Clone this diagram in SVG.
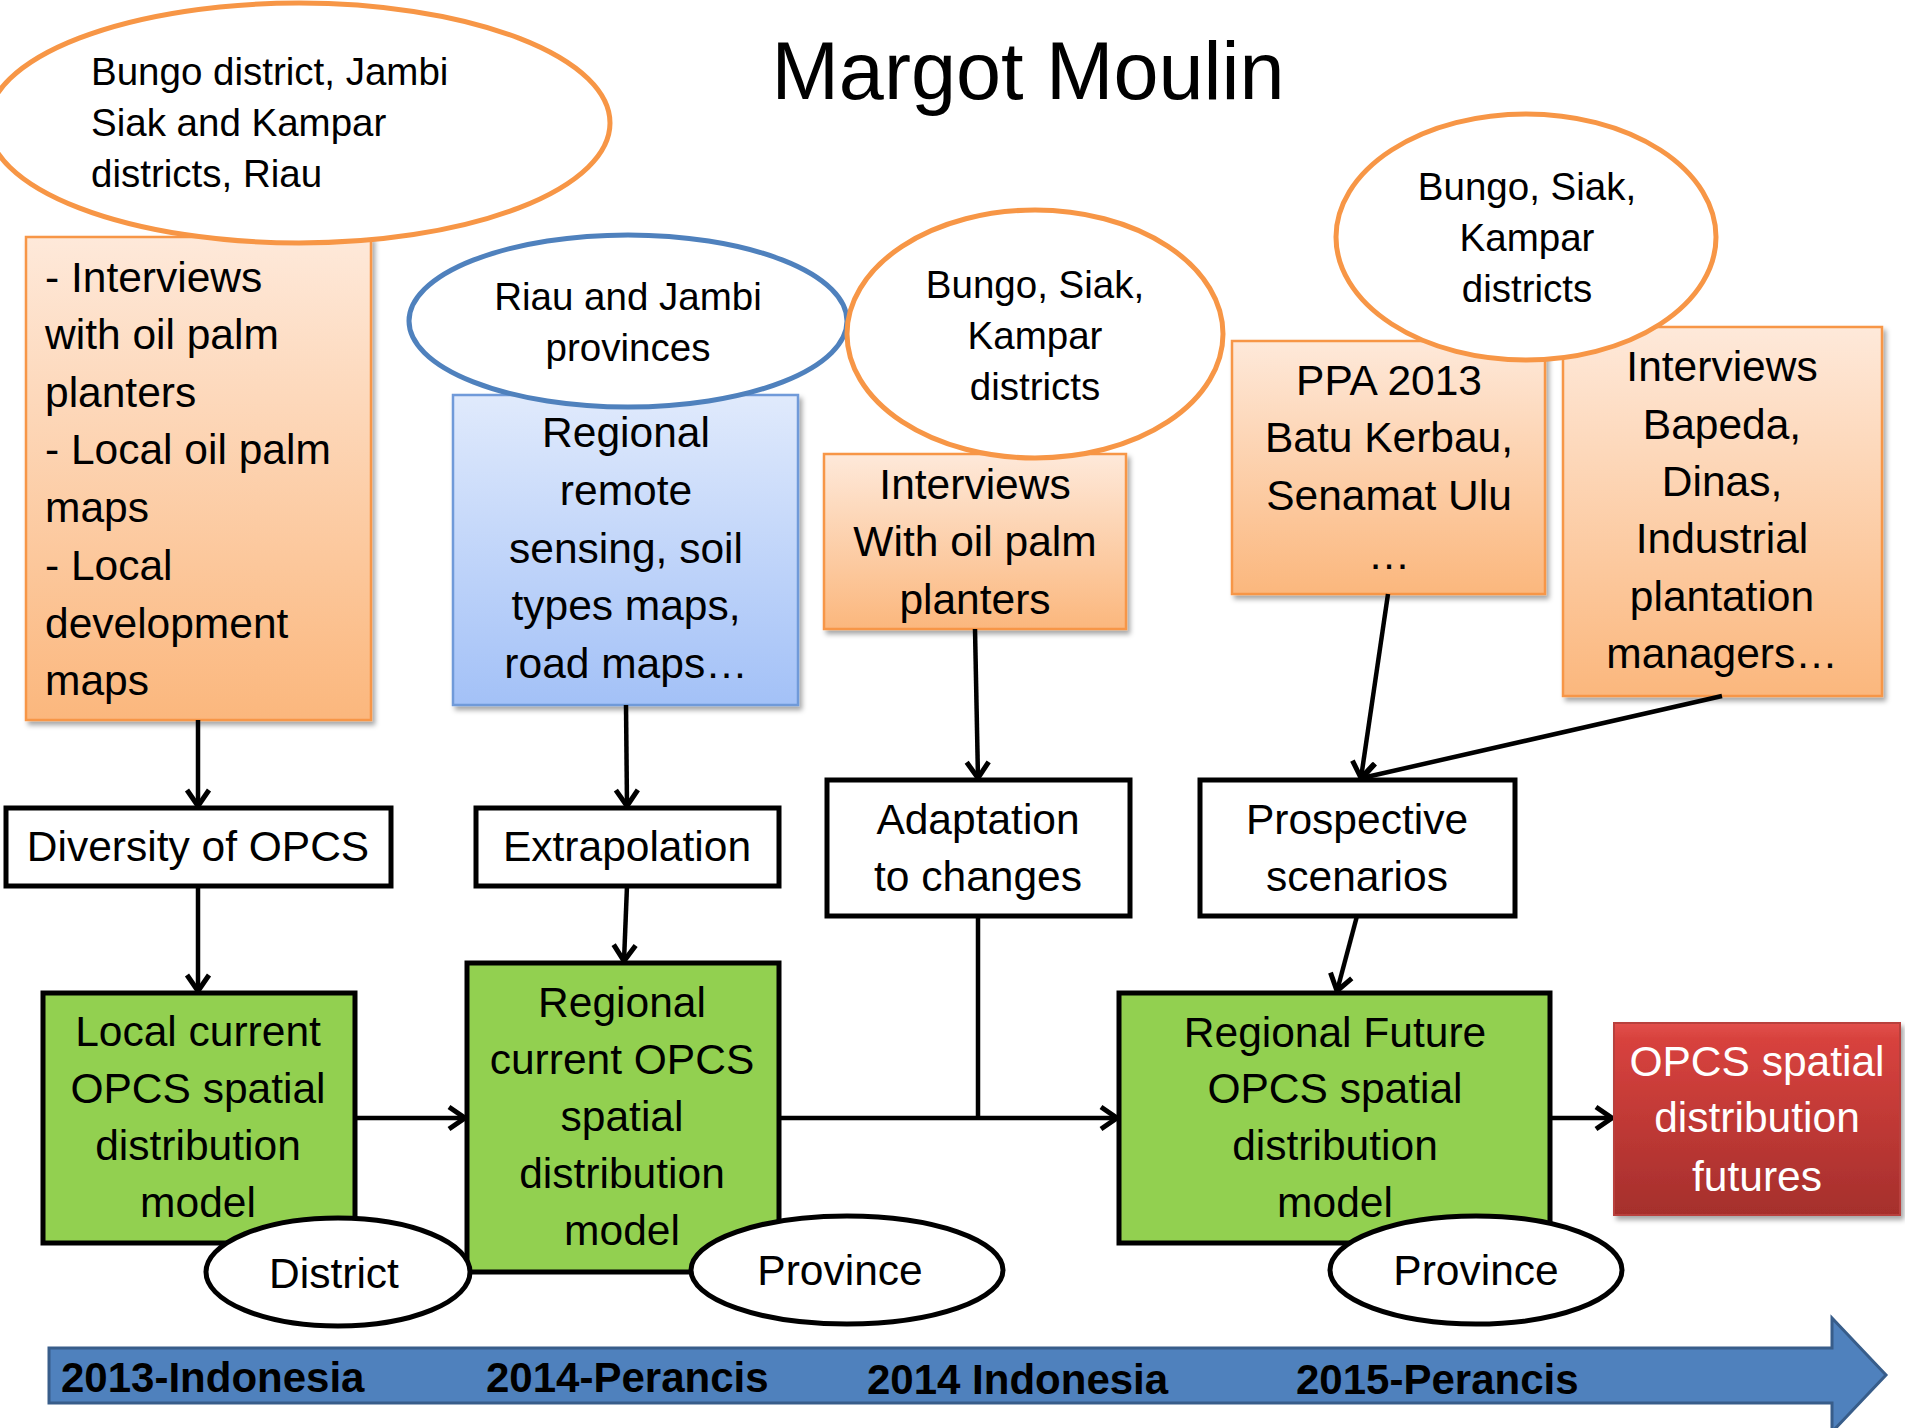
<svg xmlns="http://www.w3.org/2000/svg" width="1905" height="1428" viewBox="0 0 1905 1428">
<defs>
<linearGradient id="gOr" x1="0" y1="0" x2="0" y2="1"><stop offset="0" stop-color="#fee9da"/><stop offset="1" stop-color="#fbb77d"/></linearGradient>
<linearGradient id="gBl" x1="0" y1="0" x2="0" y2="1"><stop offset="0" stop-color="#e0eafc"/><stop offset="1" stop-color="#a3c1f7"/></linearGradient>
<linearGradient id="gRd" x1="0" y1="0" x2="0" y2="1"><stop offset="0" stop-color="#e2504c"/><stop offset="0.08" stop-color="#d8423e"/><stop offset="1" stop-color="#a52f2c"/></linearGradient>
<filter id="sh" x="-10%" y="-10%" width="120%" height="120%"><feDropShadow dx="3" dy="4" stdDeviation="2.5" flood-color="#000" flood-opacity="0.35"/></filter>
<marker id="ah" markerUnits="userSpaceOnUse" markerWidth="28" markerHeight="28" refX="20" refY="14" orient="auto"><path d="M4,3 L20,14 L4,25" fill="none" stroke="#000" stroke-width="5"/></marker>
<style>
text{font-family:"Liberation Sans",Arial,sans-serif;fill:#000}
.t{font-size:42.5px}
.e{font-size:38.5px}
.c{text-anchor:middle}
.or{fill:url(#gOr);stroke:#f79646;stroke-width:2.5;filter:url(#sh)}
.bl{fill:url(#gBl);stroke:#6f9ad9;stroke-width:2.5;filter:url(#sh)}
.rd{fill:url(#gRd);stroke:#b8403c;stroke-width:2;filter:url(#sh)}
.oe{fill:#fff;stroke:#f79646;stroke-width:5}
.be{fill:#fff;stroke:#4f81bd;stroke-width:5}
.wb{fill:#fff;stroke:#000;stroke-width:5}
.gb{fill:#92d050;stroke:#000;stroke-width:5}
.ke{fill:#fff;stroke:#000;stroke-width:5}
.cn{fill:none;stroke:#000;stroke-width:4.5}
.tl{font-size:42px;font-weight:bold}
</style>
</defs>
<rect width="1905" height="1428" fill="#fff"/>
<text x="1028" y="99" class="c" style="font-size:81px">Margot Moulin</text>

<g id="box-local-data">
<rect x="26" y="237" width="345" height="483" class="or"/>
<text class="t" x="45" y="292">- Interviews</text>
<text class="t" x="45" y="349">with oil palm</text>
<text class="t" x="45" y="407">planters</text>
<text class="t" x="45" y="464">- Local oil palm</text>
<text class="t" x="45" y="522">maps</text>
<text class="t" x="45" y="580">- Local</text>
<text class="t" x="45" y="638">development</text>
<text class="t" x="45" y="695">maps</text>
</g>
<g id="ell-bungo-jambi">
<ellipse cx="299" cy="123" rx="311" ry="120" class="oe"/>
<text class="e" x="91" y="85">Bungo district, Jambi</text>
<text class="e" x="91" y="136">Siak and Kampar</text>
<text class="e" x="91" y="187">districts, Riau</text>
</g>

<g id="box-regional-data">
<rect x="453" y="395" width="345" height="310" class="bl"/>
<text class="t c" x="626" y="447">Regional</text>
<text class="t c" x="626" y="505">remote</text>
<text class="t c" x="626" y="563">sensing, soil</text>
<text class="t c" x="626" y="620">types maps,</text>
<text class="t c" x="626" y="678">road maps…</text>
</g>
<g id="ell-riau-jambi">
<ellipse cx="628" cy="321" rx="219" ry="86" class="be"/>
<text class="e c" x="628" y="310">Riau and Jambi</text>
<text class="e c" x="628" y="361">provinces</text>
</g>

<g id="box-interviews-planters">
<rect x="824" y="454" width="302" height="175" class="or"/>
<text class="t c" x="975" y="499">Interviews</text>
<text class="t c" x="975" y="556">With oil palm</text>
<text class="t c" x="975" y="614">planters</text>
</g>
<g id="ell-bungo-siak-1">
<ellipse cx="1035" cy="334" rx="188" ry="124" class="oe"/>
<text class="e c" x="1035" y="298">Bungo, Siak,</text>
<text class="e c" x="1035" y="349">Kampar</text>
<text class="e c" x="1035" y="400">districts</text>
</g>

<g id="box-ppa">
<rect x="1232" y="341" width="313" height="253" class="or"/>
<text class="t c" x="1389" y="395">PPA 2013</text>
<text class="t c" x="1389" y="452">Batu Kerbau,</text>
<text class="t c" x="1389" y="510">Senamat Ulu</text>
<text class="t c" x="1389" y="569">…</text>
</g>
<g id="box-interviews-bapeda">
<rect x="1563" y="327" width="319" height="369" class="or"/>
<text class="t c" x="1722" y="381">Interviews</text>
<text class="t c" x="1722" y="439">Bapeda,</text>
<text class="t c" x="1722" y="496">Dinas,</text>
<text class="t c" x="1722" y="553">Industrial</text>
<text class="t c" x="1722" y="611">plantation</text>
<text class="t c" x="1722" y="668">managers…</text>
</g>
<g id="ell-bungo-siak-2">
<ellipse cx="1526" cy="237" rx="190" ry="123" class="oe"/>
<text class="e c" x="1527" y="200">Bungo, Siak,</text>
<text class="e c" x="1527" y="251">Kampar</text>
<text class="e c" x="1527" y="302">districts</text>
</g>

<g id="connectors">
<line x1="198" y1="720" x2="198" y2="806" class="cn" marker-end="url(#ah)"/>
<line x1="198" y1="886" x2="198" y2="991" class="cn" marker-end="url(#ah)"/>
<line x1="626" y1="705" x2="627" y2="806" class="cn" marker-end="url(#ah)"/>
<line x1="627" y1="886" x2="624" y2="961" class="cn" marker-end="url(#ah)"/>
<line x1="975" y1="629" x2="978" y2="778" class="cn" marker-end="url(#ah)"/>
<line x1="1388" y1="594" x2="1361" y2="778" class="cn" marker-end="url(#ah)"/>
<line x1="1722" y1="696" x2="1362" y2="778" class="cn" marker-end="url(#ah)"/>
<line x1="1357" y1="916" x2="1337" y2="991" class="cn" marker-end="url(#ah)"/>
<line x1="355" y1="1118" x2="465" y2="1118" class="cn" marker-end="url(#ah)"/>
<line x1="779" y1="1118" x2="1117" y2="1118" class="cn" marker-end="url(#ah)"/>
<polyline points="978,916 978,1118" class="cn"/>
<line x1="1550" y1="1118" x2="1612" y2="1118" class="cn" marker-end="url(#ah)"/>
</g>

<g id="box-diversity">
<rect x="6" y="808" width="385" height="78" class="wb"/>
<text class="t c" x="198" y="861">Diversity of OPCS</text>
</g>
<g id="box-extrapolation">
<rect x="476" y="808" width="303" height="78" class="wb"/>
<text class="t c" x="627" y="861">Extrapolation</text>
</g>
<g id="box-adaptation">
<rect x="827" y="780" width="303" height="136" class="wb"/>
<text class="t c" x="978" y="834">Adaptation</text>
<text class="t c" x="978" y="891">to changes</text>
</g>
<g id="box-prospective">
<rect x="1200" y="780" width="315" height="136" class="wb"/>
<text class="t c" x="1357" y="834">Prospective</text>
<text class="t c" x="1357" y="891">scenarios</text>
</g>

<g id="box-local-model">
<rect x="43" y="993" width="312" height="250" class="gb"/>
<text class="t c" x="198" y="1046">Local current</text>
<text class="t c" x="198" y="1103">OPCS spatial</text>
<text class="t c" x="198" y="1160">distribution</text>
<text class="t c" x="198" y="1217">model</text>
</g>
<g id="box-regional-model">
<rect x="467" y="963" width="312" height="309" class="gb"/>
<text class="t c" x="622" y="1017">Regional</text>
<text class="t c" x="622" y="1074">current OPCS</text>
<text class="t c" x="622" y="1131">spatial</text>
<text class="t c" x="622" y="1188">distribution</text>
<text class="t c" x="622" y="1245">model</text>
</g>
<g id="box-future-model">
<rect x="1119" y="993" width="431" height="250" class="gb"/>
<text class="t c" x="1335" y="1047">Regional Future</text>
<text class="t c" x="1335" y="1103">OPCS spatial</text>
<text class="t c" x="1335" y="1160">distribution</text>
<text class="t c" x="1335" y="1217">model</text>
</g>
<g id="box-futures">
<rect x="1614" y="1023" width="286" height="192" class="rd"/>
<text class="t c" x="1757" y="1076" style="fill:#fff">OPCS spatial</text>
<text class="t c" x="1757" y="1132" style="fill:#fff">distribution</text>
<text class="t c" x="1757" y="1191" style="fill:#fff">futures</text>
</g>

<g id="ell-district">
<ellipse cx="338" cy="1272" rx="132" ry="54" class="ke"/>
<text class="t c" x="334" y="1288">District</text>
</g>
<g id="ell-province-1">
<ellipse cx="847" cy="1270" rx="156" ry="54" class="ke"/>
<text class="t c" x="840" y="1285">Province</text>
</g>
<g id="ell-province-2">
<ellipse cx="1476" cy="1270" rx="146" ry="54" class="ke"/>
<text class="t c" x="1476" y="1285">Province</text>
</g>

<g id="timeline">
<path d="M49,1348 L1832,1348 L1832,1318 L1886,1375 L1832,1432 L1832,1403 L49,1403 Z" fill="#4f81bd" stroke="#385d8a" stroke-width="3"/>
<text class="tl" x="61" y="1392">2013-Indonesia</text>
<text class="tl" x="486" y="1392">2014-Perancis</text>
<text class="tl" x="867" y="1394">2014 Indonesia</text>
<text class="tl" x="1296" y="1394">2015-Perancis</text>
</g>
</svg>
